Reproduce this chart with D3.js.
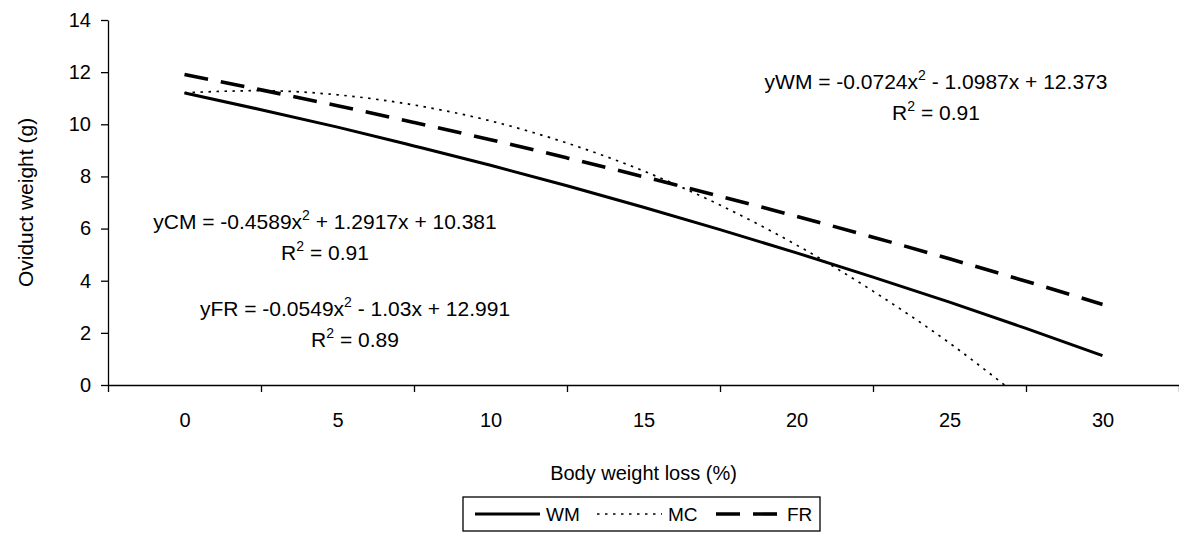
<!DOCTYPE html>
<html>
<head>
<meta charset="utf-8">
<style>
    body { margin: 0; background: #fff; }
    svg { display: block; }
    text { font-family: "Liberation Sans", Arial, sans-serif; fill: #000; }
    .axis path, .axis line { stroke: #000; stroke-width: 1.3px; }
    .axis text { font-size: 20px; }
</style>
<script src="https://d3js.org/d3.v7.min.js"></script>
</head>
<body>
<script>
const lossWM = [0, 2.5, 5, 7.5, 10, 12.5, 15, 17.5, 20, 22.5, 25, 27.5, 30];
const lossFR = [0, 2.5, 5, 7.5, 10, 12.5, 15, 17.5, 20, 22.5, 25, 27.5, 30];
const lossMC = [0, 2.5, 5, 7.5, 10, 12.5, 15, 17.5, 20, 22.5, 25, 26.8];

// oviduct weight (g)
const weightWM = [11.2, 10.56, 9.89, 9.17, 8.43, 7.64, 6.82, 5.96, 5.07, 4.14, 3.18, 2.17, 1.13];
const weightMC = [11.21, 11.29, 11.13, 10.74, 10.13, 9.28, 8.21, 6.9, 5.37, 3.6, 1.61, 0];
const weightFR = [11.91, 11.32, 10.71, 10.07, 9.41, 8.71, 7.99, 7.24, 6.47, 5.67, 4.84, 3.98, 3.09];

const xLabels = [0, 5, 10, 15, 20, 25, 30];
const xBounds = [-2.5, 2.5, 7.5, 12.5, 17.5, 22.5, 27.5, 32.5];
const yTicks = [0, 2, 4, 6, 8, 10, 12, 14];

const seriesNames = ['WM', 'MC', 'FR'];

const equations = [
    { eq: ['yWM = -0.0724x', ' - 1.0987x + 12.373'], r2: '0.91', cx: 936, y: 89 },
    { eq: ['yCM = -0.4589x', ' + 1.2917x + 10.381'], r2: '0.91', cx: 325, y: 229 },
    { eq: ['yFR = -0.0549x', ' - 1.03x + 12.991'], r2: '0.89', cx: 355, y: 316 }
];

const width = 1179, height = 538;
const plot = { left: 108, right: 1179, top: 20, bottom: 385 };

const svg = d3.select('body').append('svg')
    .attr('width', width)
    .attr('height', height);

const x = d3.scaleLinear().domain([-2.5, 32.5]).range([plot.left, plot.right]);
const y = d3.scaleLinear().domain([0, 14]).range([plot.bottom, plot.top]);

// axes
svg.append('g')
    .attr('class', 'axis')
    .attr('transform', `translate(${plot.left},0)`)
    .call(d3.axisLeft(y).tickValues(yTicks).tickSize(7).tickPadding(10).tickSizeOuter(0));

svg.append('g')
    .attr('class', 'axis')
    .attr('transform', `translate(0,${plot.bottom})`)
    .call(d3.axisBottom(x).tickValues(xBounds).tickFormat('').tickSize(7).tickSizeOuter(0));

const xl = svg.append('g')
    .attr('class', 'axis')
    .attr('transform', `translate(0,${plot.bottom})`)
    .call(d3.axisBottom(x).tickValues(xLabels).tickSize(0).tickPadding(28));
xl.select('.domain').remove();

svg.append('text')
    .attr('transform', `translate(33,${(plot.top + plot.bottom) / 2}) rotate(-90)`)
    .attr('text-anchor', 'middle')
    .style('font-size', '21px')
    .text('Oviduct weight (g)');

svg.append('text')
    .attr('x', (plot.left + plot.right) / 2)
    .attr('y', 480)
    .attr('text-anchor', 'middle')
    .style('font-size', '20px')
    .text('Body weight loss (%)');

// lines
const styles = {
    WM: { w: 3, dash: null },
    MC: { w: 1.7, dash: '2.5,5.5' },
    FR: { w: 3.6, dash: '24,13' }
};

const data = {
    WM: lossWM.map((d, i) => [d, weightWM[i]]),
    MC: lossMC.map((d, i) => [d, weightMC[i]]),
    FR: lossFR.map((d, i) => [d, weightFR[i]])
};

svg.append('clipPath').attr('id', 'clip')
    .append('rect')
    .attr('x', plot.left).attr('y', plot.top)
    .attr('width', plot.right - plot.left).attr('height', plot.bottom - plot.top);

const line = d3.line()
    .x(d => x(d[0]))
    .y(d => y(d[1]))
    .curve(d3.curveMonotoneX);

svg.append('g').attr('clip-path', 'url(#clip)')
    .selectAll('path')
    .data(seriesNames)
    .join('path')
    .attr('d', s => line(data[s]))
    .attr('fill', 'none')
    .attr('stroke', '#000')
    .attr('stroke-width', s => styles[s].w)
    .attr('stroke-dasharray', s => styles[s].dash);

// trendline equations
const eqG = svg.append('g').style('font-size', '21px').attr('text-anchor', 'middle');
equations.forEach(e => {
    const t = eqG.append('text').attr('x', e.cx).attr('y', e.y);
    t.append('tspan').text(e.eq[0]);
    t.append('tspan').attr('dy', -9).style('font-size', '14px').text('2');
    t.append('tspan').attr('dy', 9).text(e.eq[1]);
    const r = eqG.append('text').attr('x', e.cx).attr('y', e.y + 31);
    r.append('tspan').text('R');
    r.append('tspan').attr('dy', -9).style('font-size', '14px').text('2');
    r.append('tspan').attr('dy', 9).text(' = ' + e.r2);
});

// legend
const lg = svg.append('g');
lg.append('rect')
    .attr('x', 463).attr('y', 497).attr('width', 357).attr('height', 34)
    .attr('fill', '#fff').attr('stroke', '#000').attr('stroke-width', 1.3);

const legendPos = { WM: 475, MC: 597, FR: 716 };
seriesNames.forEach(s => {
    const x0 = legendPos[s];
    lg.append('line')
        .attr('x1', x0).attr('x2', x0 + 65)
        .attr('y1', 514).attr('y2', 514)
        .attr('stroke', '#000')
        .attr('stroke-width', styles[s].w)
        .attr('stroke-dasharray', styles[s].dash);
    lg.append('text')
        .attr('x', x0 + 71).attr('y', 521)
        .style('font-size', '19px')
        .text(s);
});
</script>
</body>
</html>
